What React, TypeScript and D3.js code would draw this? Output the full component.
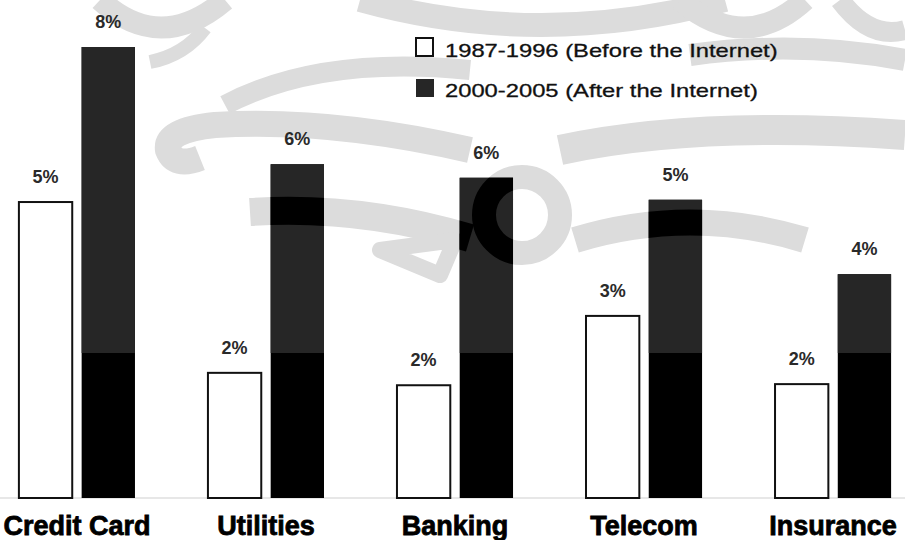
import React from "react";
import * as d3 from "d3";

// ---- data ----
const categories = ["Credit Card", "Utilities", "Banking", "Telecom", "Insurance"];
const seriesKeys = ["before", "after"];
const seriesNames = ["1987-1996 (Before the Internet)", "2000-2005 (After the Internet)"];
const beforeValues = [5.25, 2.22, 2.0, 3.23, 2.02];
const afterValues = [8.0, 5.92, 5.68, 5.29, 3.97];
const beforeLabels = ["5%", "2%", "2%", "3%", "2%"];
const afterLabels = ["8%", "6%", "6%", "5%", "4%"];

// ---- decoration (scanned watermark) ----
const watermarkPaths = [
  { d: "M 100 0 Q 160 55 225 0", w: 22 },
  { d: "M 205 28 Q 185 55 150 62", w: 14 },
  { d: "M 360 0 Q 540 50 725 0", w: 24 },
  { d: "M 680 0 Q 745 55 805 0", w: 22 },
  { d: "M 840 0 Q 870 40 905 30", w: 20 },
  { d: "M 225 105 Q 320 55 470 70", w: 20 },
  { d: "M 470 150 Q 330 118 215 125 Q 165 130 168 150 Q 175 168 200 158", w: 26 },
  { d: "M 250 212 Q 360 205 470 238", w: 28 },
  { d: "M 380 250 L 455 240 L 440 275 Z", w: 16 },
  { d: "M 690 55 Q 800 40 905 60", w: 22 },
  { d: "M 560 150 Q 700 120 905 135", w: 30 },
  { d: "M 575 240 Q 690 205 805 240", w: 26 },
];
const ring = { cx: 522, cy: 215, r: 38, w: 24 };

const W = 905;
const H = 540;
const BASE = 498;
const SHADE_Y = 353;

export default function App() {
  const x0 = d3.scaleBand<string>().domain(categories).range([0, 910]).paddingInner(0.386).paddingOuter(0.1);
  const x1 = d3.scaleBand<string>().domain(seriesKeys).range([0, x0.bandwidth()]).paddingInner(0.15);
  const y = d3.scaleLinear().domain([0, 8]).range([BASE, 47]);

  const rows = categories.map((c, i) => ({
    cat: c,
    before: beforeValues[i],
    after: afterValues[i],
    bl: beforeLabels[i],
    al: afterLabels[i],
  }));

  const wm = (color: string) => (
    <g fill="none" stroke={color} strokeLinecap="butt" strokeLinejoin="round">
      {watermarkPaths.map((p, i) => (
        <path key={i} d={p.d} strokeWidth={p.w} />
      ))}
      <circle cx={ring.cx} cy={ring.cy} r={ring.r} strokeWidth={ring.w} />
    </g>
  );

  return (
    <svg
      width={W}
      height={H}
      style={{ position: "absolute", left: 0, top: 0, background: "#fff" }}
      fontFamily="'Liberation Sans', Arial, sans-serif"
    >
      <defs>
        <clipPath id="afterBars">
          {rows.map((r) => (
            <rect
              key={r.cat}
              x={(x0(r.cat) ?? 0) + (x1("after") ?? 0)}
              y={y(r.after)}
              width={x1.bandwidth()}
              height={BASE - y(r.after)}
            />
          ))}
          <rect x={416} y={79} width={18} height={18} />
        </clipPath>
      </defs>

      {wm("#dcdcdc")}

      <line x1={0} x2={W} y1={BASE} y2={BASE} stroke="#cfcfcf" strokeWidth={1} />

      {rows.map((r) => {
        const gx = x0(r.cat) ?? 0;
        const bx = gx + (x1("before") ?? 0);
        const ax = gx + (x1("after") ?? 0);
        const bw = x1.bandwidth();
        return (
          <g key={r.cat}>
            <rect x={bx} y={y(r.before)} width={bw} height={BASE - y(r.before)} fill="#fff" stroke="#111" strokeWidth={2} />
            <rect x={ax} y={y(r.after)} width={bw} height={BASE - y(r.after)} fill="#000" />
            <text x={bx + bw / 2} y={y(r.before) - 19} textAnchor="middle" fontSize={18} fontWeight="bold" fill="#2a2a2a">
              {r.bl}
            </text>
            <text x={ax + bw / 2} y={y(r.after) - 19} textAnchor="middle" fontSize={18} fontWeight="bold" fill="#2a2a2a">
              {r.al}
            </text>
            <text
              x={gx + x0.bandwidth() / 2}
              y={535}
              textAnchor="middle"
              fontSize={27}
              fontWeight="bold"
              fill="#000"
              stroke="#000"
              strokeWidth={0.8}
            >
              {r.cat}
            </text>
          </g>
        );
      })}

      {/* black legend square */}
      <rect x={416} y={79} width={18} height={18} fill="#000" />

      {/* scanned shading on dark areas */}
      <g clipPath="url(#afterBars)">
        <rect x={0} y={0} width={W} height={SHADE_Y} fill="#262626" />
        {wm("#000")}
      </g>

      {/* legend */}
      <rect x={416} y={38} width={17} height={18} fill="#fff" stroke="#111" strokeWidth={2} />
      {seriesNames.map((s, i) => (
        <g key={s} transform={`translate(445,${57 + i * 40}) scale(1.25,1)`}>
          <text x={0} y={0} fontSize={19} fill="#111" stroke="#111" strokeWidth={0.3}>
            {s}
          </text>
        </g>
      ))}
    </svg>
  );
}
